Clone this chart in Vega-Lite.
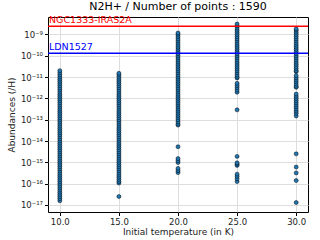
{
  "$schema": "https://vega.github.io/schema/vega-lite/v6.json",
  "width": 260,
  "height": 195,
  "autosize": {"type": "none"},
  "padding": {"left": 48, "top": 17, "right": 12, "bottom": 28},
  "title": {"text": "N2H+ / Number of points : 1590", "font": "DejaVu Sans", "fontSize": 11, "fontWeight": "normal", "color": "#000000", "offset": 3},
  "config": {
    "view": {"stroke": "#000000", "strokeWidth": 1},
    "axis": {"labelFont": "DejaVu Sans", "titleFont": "DejaVu Sans", "labelColor": "#222222", "titleColor": "#222222", "labelFontSize": 8.5, "titleFontSize": 9, "titleFontWeight": "normal", "gridColor": "#dddddd", "gridWidth": 1, "tickColor": "#000000", "tickSize": 3.5, "domain": false, "labelPadding": 2}
  },
  "datasets": {
    "pts": [
      {"T":10,"A":1.58e-17},{"T":10,"A":2e-17},{"T":10,"A":2.51e-17},{"T":10,"A":3.16e-17},{"T":10,"A":3.98e-17},{"T":10,"A":5.01e-17},{"T":10,"A":6.31e-17},{"T":10,"A":7.94e-17},
      {"T":10,"A":1e-16},{"T":10,"A":1.26e-16},{"T":10,"A":1.58e-16},{"T":10,"A":2e-16},{"T":10,"A":2.51e-16},{"T":10,"A":3.16e-16},{"T":10,"A":3.98e-16},{"T":10,"A":5.01e-16},{"T":10,"A":6.31e-16},{"T":10,"A":7.94e-16},
      {"T":10,"A":1e-15},{"T":10,"A":1.26e-15},{"T":10,"A":1.58e-15},{"T":10,"A":2e-15},{"T":10,"A":2.51e-15},{"T":10,"A":3.16e-15},{"T":10,"A":3.98e-15},{"T":10,"A":5.01e-15},{"T":10,"A":6.31e-15},{"T":10,"A":7.94e-15},
      {"T":10,"A":1e-14},{"T":10,"A":1.26e-14},{"T":10,"A":1.58e-14},{"T":10,"A":2e-14},{"T":10,"A":2.51e-14},{"T":10,"A":3.16e-14},{"T":10,"A":3.98e-14},{"T":10,"A":5.01e-14},{"T":10,"A":6.31e-14},{"T":10,"A":7.94e-14},
      {"T":10,"A":1e-13},{"T":10,"A":1.26e-13},{"T":10,"A":1.58e-13},{"T":10,"A":2e-13},{"T":10,"A":2.51e-13},{"T":10,"A":3.16e-13},{"T":10,"A":3.98e-13},{"T":10,"A":5.01e-13},{"T":10,"A":6.31e-13},{"T":10,"A":7.94e-13},
      {"T":10,"A":1e-12},{"T":10,"A":1.26e-12},{"T":10,"A":1.58e-12},{"T":10,"A":2e-12},{"T":10,"A":2.51e-12},{"T":10,"A":3.16e-12},{"T":10,"A":3.98e-12},{"T":10,"A":5.01e-12},{"T":10,"A":6.31e-12},{"T":10,"A":7.94e-12},
      {"T":10,"A":1e-11},{"T":10,"A":1.26e-11},{"T":10,"A":1.58e-11},{"T":10,"A":2e-11},

      {"T":15,"A":2.5e-17},
      {"T":15,"A":1.07e-16},{"T":15,"A":1.26e-16},{"T":15,"A":1.58e-16},{"T":15,"A":2e-16},{"T":15,"A":2.51e-16},{"T":15,"A":3.16e-16},{"T":15,"A":3.98e-16},{"T":15,"A":5.01e-16},{"T":15,"A":6.31e-16},{"T":15,"A":7.94e-16},
      {"T":15,"A":1e-15},{"T":15,"A":1.26e-15},{"T":15,"A":1.58e-15},{"T":15,"A":2e-15},{"T":15,"A":2.51e-15},{"T":15,"A":3.16e-15},{"T":15,"A":3.98e-15},{"T":15,"A":5.01e-15},{"T":15,"A":6.31e-15},{"T":15,"A":7.94e-15},
      {"T":15,"A":1e-14},{"T":15,"A":1.26e-14},{"T":15,"A":1.58e-14},{"T":15,"A":2e-14},{"T":15,"A":2.51e-14},{"T":15,"A":3.16e-14},{"T":15,"A":3.98e-14},{"T":15,"A":5.01e-14},{"T":15,"A":6.31e-14},{"T":15,"A":7.94e-14},
      {"T":15,"A":1e-13},{"T":15,"A":1.26e-13},{"T":15,"A":1.58e-13},{"T":15,"A":2e-13},{"T":15,"A":2.51e-13},{"T":15,"A":3.16e-13},{"T":15,"A":3.98e-13},{"T":15,"A":5.01e-13},{"T":15,"A":6.31e-13},{"T":15,"A":7.94e-13},
      {"T":15,"A":1e-12},{"T":15,"A":1.26e-12},{"T":15,"A":1.58e-12},{"T":15,"A":2e-12},{"T":15,"A":2.51e-12},{"T":15,"A":3.16e-12},{"T":15,"A":3.98e-12},{"T":15,"A":5.01e-12},{"T":15,"A":6.31e-12},{"T":15,"A":7.94e-12},
      {"T":15,"A":1e-11},{"T":15,"A":1.26e-11},{"T":15,"A":1.5e-11},

      {"T":20,"A":3.3e-16},{"T":20,"A":4.1e-16},{"T":20,"A":5.2e-16},{"T":20,"A":9.8e-16},{"T":20,"A":1.2e-15},{"T":20,"A":1.5e-15},{"T":20,"A":5.4e-15},
      {"T":20,"A":5.6e-14},{"T":20,"A":6.31e-14},{"T":20,"A":7.94e-14},
      {"T":20,"A":1e-13},{"T":20,"A":1.26e-13},{"T":20,"A":1.58e-13},{"T":20,"A":2e-13},{"T":20,"A":2.51e-13},{"T":20,"A":3.16e-13},{"T":20,"A":3.98e-13},{"T":20,"A":5.01e-13},{"T":20,"A":6.31e-13},{"T":20,"A":7.94e-13},
      {"T":20,"A":1e-12},{"T":20,"A":1.26e-12},{"T":20,"A":1.58e-12},{"T":20,"A":2e-12},{"T":20,"A":2.51e-12},{"T":20,"A":3.16e-12},{"T":20,"A":3.98e-12},{"T":20,"A":5.01e-12},{"T":20,"A":6.31e-12},{"T":20,"A":7.94e-12},
      {"T":20,"A":1e-11},{"T":20,"A":1.26e-11},{"T":20,"A":1.58e-11},{"T":20,"A":2e-11},{"T":20,"A":2.51e-11},{"T":20,"A":3.16e-11},{"T":20,"A":3.98e-11},{"T":20,"A":5.01e-11},{"T":20,"A":6.31e-11},{"T":20,"A":7.94e-11},
      {"T":20,"A":1e-10},{"T":20,"A":1.26e-10},{"T":20,"A":1.58e-10},{"T":20,"A":2e-10},{"T":20,"A":2.51e-10},{"T":20,"A":3.16e-10},{"T":20,"A":3.98e-10},{"T":20,"A":5.01e-10},{"T":20,"A":6.31e-10},{"T":20,"A":7.94e-10},
      {"T":20,"A":1e-9},{"T":20,"A":1.17e-9},

      {"T":25,"A":1.25e-16},{"T":25,"A":1.7e-16},{"T":25,"A":2.2e-16},{"T":25,"A":2.8e-16},{"T":25,"A":7.2e-16},{"T":25,"A":8.2e-16},{"T":25,"A":9.5e-16},{"T":25,"A":1.9e-15},{"T":25,"A":2.9e-13},
      {"T":25,"A":1.95e-12},{"T":25,"A":2.5e-12},{"T":25,"A":3.2e-12},{"T":25,"A":4e-12},{"T":25,"A":5.1e-12},
      {"T":25,"A":9.1e-12},
      {"T":25,"A":1e-11},{"T":25,"A":1.26e-11},{"T":25,"A":1.58e-11},{"T":25,"A":2e-11},{"T":25,"A":2.51e-11},{"T":25,"A":3.16e-11},{"T":25,"A":3.98e-11},{"T":25,"A":5.01e-11},{"T":25,"A":6.31e-11},{"T":25,"A":7.94e-11},
      {"T":25,"A":1e-10},{"T":25,"A":1.26e-10},{"T":25,"A":1.58e-10},{"T":25,"A":2e-10},{"T":25,"A":2.51e-10},{"T":25,"A":3.16e-10},{"T":25,"A":3.98e-10},{"T":25,"A":5.01e-10},{"T":25,"A":6.31e-10},{"T":25,"A":7.94e-10},
      {"T":25,"A":1e-9},{"T":25,"A":1.26e-9},{"T":25,"A":1.58e-9},{"T":25,"A":2e-9},{"T":25,"A":2.51e-9},{"T":25,"A":3.1e-9},

      {"T":30,"A":1.3e-17},{"T":30,"A":1.4e-16},{"T":30,"A":3.2e-16},{"T":30,"A":6e-16},{"T":30,"A":2.5e-15},
      {"T":30,"A":1.5e-13},{"T":30,"A":2e-13},{"T":30,"A":2.5e-13},{"T":30,"A":3.2e-13},{"T":30,"A":4e-13},{"T":30,"A":5e-13},{"T":30,"A":6.3e-13},{"T":30,"A":7.9e-13},{"T":30,"A":1e-12},{"T":30,"A":1.26e-12},{"T":30,"A":1.6e-12},
      {"T":30,"A":3.3e-12},{"T":30,"A":3.7e-12},{"T":30,"A":4.7e-12},{"T":30,"A":5.9e-12},{"T":30,"A":7.4e-12},{"T":30,"A":9.3e-12},{"T":30,"A":1.17e-11},
      {"T":30,"A":1.8e-11},{"T":30,"A":2e-11},{"T":30,"A":2.51e-11},{"T":30,"A":3.16e-11},{"T":30,"A":3.98e-11},{"T":30,"A":5.01e-11},{"T":30,"A":6.31e-11},{"T":30,"A":7.94e-11},
      {"T":30,"A":1e-10},{"T":30,"A":1.26e-10},{"T":30,"A":1.58e-10},{"T":30,"A":2e-10},{"T":30,"A":2.51e-10},{"T":30,"A":3.16e-10},{"T":30,"A":3.98e-10},{"T":30,"A":5.01e-10},{"T":30,"A":6.31e-10},{"T":30,"A":7.94e-10},
      {"T":30,"A":1e-9},{"T":30,"A":1.26e-9},{"T":30,"A":1.58e-9},{"T":30,"A":1.82e-9}
    ],
    "refs": [
      {"name": "NGC1333-IRAS2A", "A": 2.4e-9, "T": 9, "c": "red"},
      {"name": "LDN1527", "A": 1.3e-10, "T": 9, "c": "blue"}
    ]
  },
  "layer": [
    {
      "data": {"name": "pts"},
      "mark": {"type": "point", "shape": "circle", "filled": true, "size": 16, "fill": "#1f77b4", "stroke": "#000000", "strokeWidth": 0.5, "opacity": 1, "strokeOpacity": 1},
      "encoding": {
        "x": {"field": "T", "type": "quantitative", "scale": {"domain": [9, 31], "nice": false, "zero": false},
              "axis": {"title": "Initial temperature (in K)", "values": [10, 12.5, 15, 17.5, 20, 22.5, 25, 27.5, 30], "format": ".1f", "titleY": 19, "titleBaseline": "middle"}},
        "y": {"field": "A", "type": "quantitative", "scale": {"type": "log", "domain": [4.68e-18, 6.6e-9], "nice": false},
              "axis": {"title": "Abundances (/H)", "values": [1e-17, 1e-16, 1e-15, 1e-14, 1e-13, 1e-12, 1e-11, 1e-10, 1e-9],
                       "labelExpr": "['10⁻⁹','10⁻¹⁰','10⁻¹¹','10⁻¹²','10⁻¹³','10⁻¹⁴','10⁻¹⁵','10⁻¹⁶','10⁻¹⁷'][round(-log(datum.value)/LN10)-9]",
                       "titleX": -37, "titleBaseline": "middle"}}
      }
    },
    {
      "data": {"name": "refs"},
      "mark": {"type": "rule", "strokeWidth": 1.5},
      "encoding": {
        "y": {"field": "A", "type": "quantitative"},
        "color": {"field": "c", "type": "nominal", "scale": null}
      }
    },
    {
      "data": {"name": "refs"},
      "mark": {"type": "text", "align": "left", "baseline": "bottom", "dx": 1, "dy": -1, "font": "DejaVu Sans", "fontSize": 9.5},
      "encoding": {
        "x": {"field": "T", "type": "quantitative"},
        "y": {"field": "A", "type": "quantitative"},
        "text": {"field": "name"},
        "color": {"field": "c", "type": "nominal", "scale": null}
      }
    }
  ]
}
